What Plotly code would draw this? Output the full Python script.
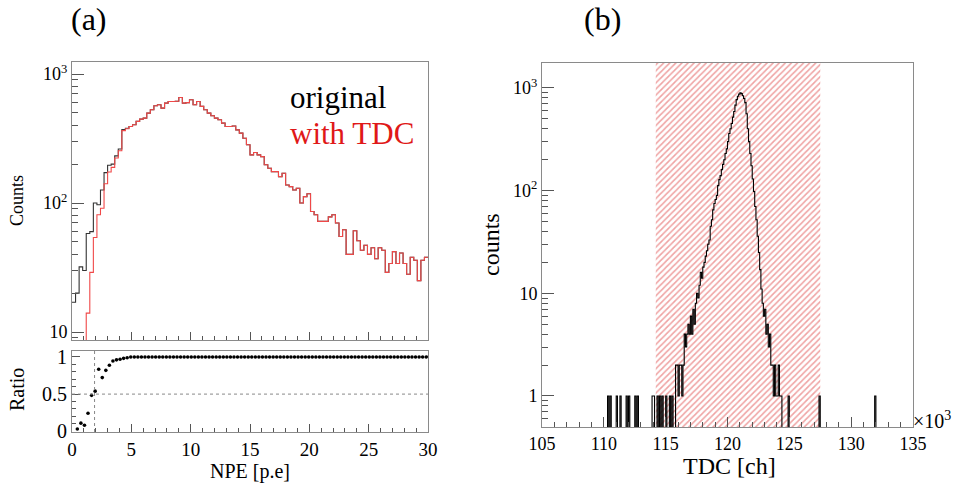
import numpy as np
import plotly.graph_objects as go

# ---------------- data ----------------
# (a) NPE spectrum: 100 bins of 0.3 p.e. between 0 and 30
npe_bin_edges = np.linspace(0.0, 30.0, 101)
npe_original_low = [17, 20, 32, 30, 58, 60, 100, 97, 126, 172, 196, 200, 232, 262, 371, 380]
npe_with_tdc = [0, 0.6, 3.5, 2.4, 14, 29, 54, 81, 91, 141, 174, 189, 223, 254, 364, 376,
                392, 404, 429, 447, 455, 497, 528, 567, 577, 544, 595, 612, 612, 615,
                658, 595, 600, 631, 577, 612, 561, 528, 497, 474, 455, 442, 416, 392,
                392, 395, 369, 348, 318, 283, 236, 246, 236, 229, 198, 186, 175, 175,
                160, 170, 138, 134, 126, 130, 100, 112, 118, 86, 81, 72, 72, 72, 78,
                81, 70, 55, 62, 40, 40, 61, 51, 43, 47, 40, 45, 37, 45, 43, 29, 34,
                42, 34, 41, 34, 28, 38, 36, 25, 36, 38]
npe_original = npe_original_low + npe_with_tdc[len(npe_original_low):]
npe_cut = 1.9
ratio_ref = 0.5

# (b) TDC spectrum (x in 10^3 ch), 0.1e3-ch bins between 105e3 and 135e3
tdc_bin_edges = np.linspace(105.0, 135.0, 301)
tdc_filled_centers = [110.35, 110.55, 111.05, 111.35, 111.85, 112.05, 112.55, 112.75,
                      113.95, 114.05, 114.35, 114.55, 114.75, 115.05, 115.35, 115.55,
                      115.85, 115.95, 116.05, 116.15, 116.25, 116.35, 116.45, 116.55,
                      116.65, 116.75, 116.85, 116.95, 117.05, 117.15, 117.25, 117.35,
                      117.45, 117.55, 117.65, 117.75, 117.85, 117.95, 118.05, 118.15,
                      118.25, 118.35, 118.45, 118.55, 118.65, 118.75, 118.85, 118.95,
                      119.05, 119.15, 119.25, 119.35, 119.45, 119.55, 119.65, 119.75,
                      119.85, 119.95, 120.05, 120.15, 120.25, 120.35, 120.45, 120.55,
                      120.65, 120.75, 120.85, 120.95, 121.05, 121.15, 121.25, 121.35,
                      121.45, 121.55, 121.65, 121.75, 121.85, 121.95, 122.05, 122.15,
                      122.25, 122.35, 122.45, 122.55, 122.65, 122.75, 122.85, 122.95,
                      123.05, 123.15, 123.25, 123.35, 123.45, 123.55, 123.65, 123.75,
                      123.85, 123.95, 124.05, 124.15, 124.25, 124.35, 124.95, 127.45,
                      131.95]
tdc_filled_counts = [1, 1, 1, 1, 1, 1, 1, 1,
                     1, 1, 1, 1, 1, 1, 1, 1,
                     2, 2, 1, 2, 2, 1, 2, 4,
                     3, 4, 5, 4, 6, 4, 7, 5,
                     8, 10, 9, 12, 16, 14, 18, 20,
                     23, 26, 30, 33, 45, 52, 65, 75,
                     82, 90, 112, 128, 140, 160, 180, 200,
                     230, 255, 300, 360, 400, 450, 520, 590,
                     680, 770, 830, 870, 895, 880, 840, 790,
                     720, 560, 400, 300, 230, 175, 130, 98,
                     70, 52, 36, 25, 17, 11, 8, 6,
                     7, 4, 5, 3, 4, 2, 2, 1,
                     2, 1, 1, 2, 1, 1, 1, 1,
                     1]
tdc_window = [114.2, 127.5]

# ---------------- derived ----------------
npe_orig = np.array(npe_original, dtype=float)
npe_tdc = np.array(npe_with_tdc, dtype=float)
npe_centers = 0.5 * (npe_bin_edges[:-1] + npe_bin_edges[1:])
ratio = npe_tdc / npe_orig
keep = npe_tdc > 0

FLOOR = 1e-3  # plotting floor for empty bins on log axes (below visible range)


def step_xy(edges, counts):
    c = np.where(np.asarray(counts) > 0, counts, FLOOR)
    x = np.append(edges[:-1], edges[-1])
    y = np.append(c, c[-1])
    return x, y


tdc_counts = np.zeros(len(tdc_bin_edges) - 1)
for c, v in zip(tdc_filled_centers, tdc_filled_counts):
    idx = int(np.floor((c - tdc_bin_edges[0]) / (tdc_bin_edges[1] - tdc_bin_edges[0])))
    tdc_counts[idx] = v

# ---------------- figure ----------------
FONT = "'Liberation Serif', 'Times New Roman', 'DejaVu Serif', serif"
FRAME = "#8a8a8a"
W, H = 955, 486

def px_x(p):
    return p / W

def px_y(p):
    return 1 - p / H

fig = go.Figure()

xo, yo = step_xy(npe_bin_edges, npe_orig)
fig.add_trace(go.Scatter(x=xo, y=yo, mode="lines", line=dict(color="#333333", width=1.1, shape="hv"),
                         xaxis="x", yaxis="y", showlegend=False, hoverinfo="skip"))
xr, yr = step_xy(npe_bin_edges, npe_tdc)
fig.add_trace(go.Scatter(x=xr, y=yr, mode="lines", line=dict(color="#f04848", width=1.1, shape="hv"),
                         xaxis="x", yaxis="y", showlegend=False, hoverinfo="skip"))

fig.add_trace(go.Scatter(x=npe_centers[keep], y=ratio[keep], mode="markers",
                         marker=dict(color="black", size=3.6),
                         xaxis="x2", yaxis="y2", showlegend=False))

Y3_RANGE = [-0.302, 3.243]
ylo, yhi = 10 ** (Y3_RANGE[0] - 0.5), 10 ** (Y3_RANGE[1] + 0.5)
fig.add_trace(go.Scatter(x=[tdc_window[0], tdc_window[1], tdc_window[1], tdc_window[0], tdc_window[0]],
                         y=[ylo, ylo, yhi, yhi, ylo], mode="lines", fill="toself",
                         line=dict(width=0, color="rgba(0,0,0,0)"),
                         fillcolor="rgba(255,255,255,0)",
                         fillpattern=dict(shape="/", fgcolor="rgb(224,72,72)",
                                          bgcolor="rgba(255,255,255,0)", size=4.3, solidity=0.36),
                         xaxis="x3", yaxis="y3", showlegend=False, hoverinfo="skip"))
xt, yt = step_xy(tdc_bin_edges, tdc_counts)
fig.add_trace(go.Scatter(x=xt, y=yt, mode="lines", line=dict(color="black", width=1.1, shape="hv"),
                         xaxis="x3", yaxis="y3", showlegend=False, hoverinfo="skip"))

tickfont = dict(family=FONT, size=18, color="black")
common = dict(showline=True, linecolor=FRAME, linewidth=1, mirror=True, showgrid=False,
              zeroline=False, ticks="inside", tickcolor="#555555", tickwidth=1, automargin=False)
log_minor = [m * 10 ** d for d in range(-1, 4) for m in range(2, 10)]

fig.update_layout(
    width=W, height=H, margin=dict(l=0, r=0, t=0, b=0, autoexpand=False),
    paper_bgcolor="white", plot_bgcolor="white",
    font=dict(family=FONT, color="black"),
    xaxis=dict(domain=[px_x(72), px_x(428)], anchor="y", range=[0, 30], dtick=5, ticklen=8,
               showticklabels=False, minor=dict(dtick=1, ticks="inside", ticklen=4, tickcolor="#555555"), **common),
    yaxis=dict(domain=[px_y(340), px_y(62)], anchor="x", type="log", range=[0.938, 3.093],
               tickvals=[10, 100, 1000], ticktext=["10", "10<sup>2</sup>", "10<sup>3</sup>"], ticklen=12,
               tickfont=tickfont, minor=dict(tickvals=log_minor, ticks="inside", ticklen=6, tickcolor="#555555"),
               **common),
    xaxis2=dict(domain=[px_x(72), px_x(428)], anchor="y2", range=[0, 30], dtick=5, ticklen=8,
                tickfont=dict(family=FONT, size=19, color="black"),
                minor=dict(dtick=1, ticks="inside", ticklen=4, tickcolor="#555555"), **common),
    yaxis2=dict(domain=[px_y(432), px_y(351)], anchor="x2", range=[-0.01, 1.08],
                tickvals=[0, 0.5, 1], ticktext=["0", "0.5", "1"], ticklen=8,
                tickfont=dict(family=FONT, size=20, color="black"),
                minor=dict(dtick=0.1, ticks="inside", ticklen=4, tickcolor="#555555"), **common),
    xaxis3=dict(domain=[px_x(542), px_x(913)], anchor="y3", range=[105, 135], dtick=5, ticklen=10,
                tickfont=tickfont, minor=dict(dtick=1, ticks="inside", ticklen=5, tickcolor="#555555"), **common),
    yaxis3=dict(domain=[px_y(427), px_y(63)], anchor="x3", type="log", range=Y3_RANGE,
                tickvals=[1, 10, 100, 1000], ticktext=["1", "10", "10<sup>2</sup>", "10<sup>3</sup>"],
                ticklen=12, tickfont=tickfont,
                minor=dict(tickvals=log_minor, ticks="inside", ticklen=6, tickcolor="#555555"), **common),
)

fig.add_shape(type="line", xref="x2", yref="y2", x0=0, x1=30, y0=ratio_ref, y1=ratio_ref,
              line=dict(color="#888888", width=1, dash="dot"))
fig.add_shape(type="line", xref="x2", yref="y2 domain", x0=npe_cut, x1=npe_cut, y0=0, y1=1,
              line=dict(color="#888888", width=1, dash="dot"))

def ann(text, x, y, size, color="black", angle=0, xanchor="center"):
    fig.add_annotation(text=text, x=px_x(x), y=px_y(y), xref="paper", yref="paper",
                       showarrow=False, xanchor=xanchor, yanchor="middle", textangle=angle,
                       font=dict(family=FONT, size=size, color=color))

ann("(a)", 89, 19, 32)
ann("(b)", 602, 19, 32)
ann("original", 288, 97, 31, xanchor="left")
ann("with TDC", 288, 134, 31, color="#e01818", xanchor="left")
ann("Counts", 17, 201, 18, angle=-90)
ann("Ratio", 17, 390, 20, angle=-90)
ann("NPE [p.e]", 250, 471, 20)
ann("counts", 491, 244, 24, angle=-90)
ann("TDC [ch]", 729, 466, 24)
ann("×10<sup>3</sup>", 953, 420, 20, xanchor="right")

fig.write_html("out.html", config={"displayModeBar": False},
               post_script="document.body.style.margin='0';document.body.style.padding='0';")
